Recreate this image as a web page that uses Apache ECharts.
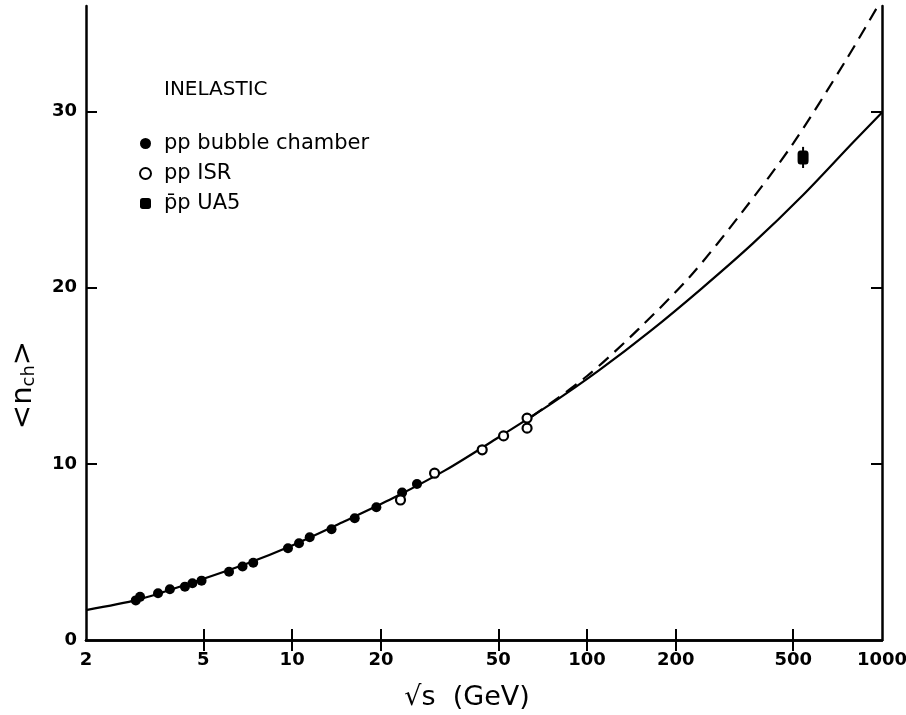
<!DOCTYPE html>
<html>
<head>
<meta charset="utf-8">
<script src="https://cdn.jsdelivr.net/npm/echarts@6/dist/echarts.min.js"></script>
<style>html,body{margin:0;padding:0;background:#fff}#c{width:906px;height:715px}</style>
</head>
<body>
<div id="c"></div>
<script>
// ---- data ----
const xTickLabels = [2, 5, 10, 20, 50, 100, 200, 500, 1000];
const xTickMarks = [5, 10, 20, 50, 100, 200, 500];
const yTickLabels = [0, 10, 20, 30];
const yTickMarks = [10, 20, 30];

const bubbleX = [2.95, 3.05, 3.51, 3.85, 4.33, 4.59, 4.93, 6.11, 6.79, 7.38, 9.68, 10.55, 11.47, 13.6, 16.3, 19.3, 23.6, 26.5];
const bubbleY = [2.25, 2.45, 2.65, 2.88, 3.03, 3.22, 3.37, 3.88, 4.17, 4.39, 5.21, 5.49, 5.83, 6.29, 6.91, 7.54, 8.37, 8.86];

const isrX = [23.3, 30.4, 44.1, 52.1, 62.6, 62.6];
const isrY = [7.95, 9.47, 10.8, 11.59, 12.6, 12.03];

const ua5X = [540];
const ua5Y = [27.4];
const ua5Lo = [26.8];
const ua5Hi = [28.0];

const fitX = [2, 3, 4.5, 7, 10, 15, 22, 33, 50, 75, 110, 165, 245, 365, 540, 800, 1000];
const fitSolidY = [1.70, 2.29, 3.22, 4.33, 5.37, 6.73, 8.06, 9.63, 11.5, 13.38, 15.32, 17.58, 19.97, 22.52, 25.27, 28.28, 29.95];

const dashX = [65, 100, 150, 225, 335, 500, 750, 1000];
const dashY = [12.69, 14.99, 17.68, 20.7, 24.28, 28.2, 32.85, 36.4];

const FONT = 'DejaVu Sans';
const chart = echarts.init(document.getElementById('c'), null, {renderer: 'canvas'});

const axisLineStyle = {color: '#000', width: 2.5};
const tickStyle = {color: '#000', width: 2};

const option = {
  backgroundColor: '#fff',
  animation: false,
  title: {
    text: 'INELASTIC',
    left: 159, top: 75,
    textStyle: {fontFamily: FONT, fontSize: 20, fontWeight: 'normal', color: '#000'}
  },
  legend: {
    orient: 'vertical',
    left: 134, top: 127,
    itemWidth: 11, itemHeight: 11,
    itemGap: 7,
    textStyle: {fontFamily: FONT, fontSize: 21, color: '#000', lineHeight: 23, padding: [0, 0, 0, 8]},
    data: [
      {name: 'pp bubble chamber', icon: 'circle'},
      {name: 'pp ISR', icon: 'circle'},
      {name: 'p\u0304p UA5', icon: 'roundRect'}
    ]
  },
  grid: {left: 86, right: 24, top: 6, bottom: 75, containLabel: false, outerBoundsMode: 'none'},
  xAxis: [{
    type: 'log', logBase: 10, min: 2, max: 1000, position: 'bottom',
    name: '\u221As  (GeV)', nameLocation: 'middle', nameGap: 44,
    nameTextStyle: {fontFamily: FONT, fontSize: 27, color: '#000', padding: [0, 34, 0, 0]},
    axisLine: {show: true, lineStyle: axisLineStyle},
    axisTick: {show: true, inside: true, length: 11, lineStyle: tickStyle, customValues: xTickMarks},
    axisLabel: {show: true, customValues: xTickLabels, margin: 11, fontFamily: FONT, fontSize: 18, fontWeight: 'bold', color: '#000',
      formatter: function (v) { return String(v); }},
    splitLine: {show: false}, minorTick: {show: false}, minorSplitLine: {show: false}
  }, {
    type: 'log', logBase: 10, min: 2, max: 1000, position: 'top',
    axisLine: {show: true, lineStyle: axisLineStyle},
    axisTick: {show: true, inside: true, length: 11, lineStyle: tickStyle, customValues: xTickMarks},
    axisLabel: {show: false},
    splitLine: {show: false}
  }],
  yAxis: [{
    type: 'value', min: 0, max: 36, interval: 10, position: 'left',
    name: '<n{sub|ch}>', nameLocation: 'middle', nameGap: 48, nameRotate: 90,
    nameTextStyle: {fontFamily: FONT, fontSize: 29, color: '#000', padding: [0, 124, 0, 0],
      rich: {sub: {fontFamily: FONT, fontSize: 18, color: '#000', verticalAlign: 'bottom', padding: [12, 0, 0, 0]}}},
    axisLine: {show: true, lineStyle: axisLineStyle},
    axisTick: {show: true, inside: true, length: 11, lineStyle: tickStyle, customValues: yTickMarks},
    axisLabel: {show: true, customValues: yTickLabels, margin: 9, fontFamily: FONT, fontSize: 18, fontWeight: 'bold', color: '#000'},
    splitLine: {show: false}
  }, {
    type: 'value', min: 0, max: 36, interval: 10, position: 'right',
    axisLine: {show: true, lineStyle: axisLineStyle},
    axisTick: {show: true, inside: true, length: 11, lineStyle: tickStyle, customValues: yTickMarks},
    axisLabel: {show: false},
    splitLine: {show: false}
  }],
  series: [
    {
      name: 'fit', type: 'line', xAxisIndex: 0, yAxisIndex: 0,
      data: fitX.map((x, i) => [x, fitSolidY[i]]),
      smooth: 0.3, showSymbol: false, symbol: 'none',
      lineStyle: {color: '#000', width: 2.2}, z: 2, silent: true
    },
    {
      name: 'fit2', type: 'line', xAxisIndex: 0, yAxisIndex: 0,
      data: dashX.map((x, i) => [x, dashY[i]]),
      smooth: 0.3, showSymbol: false, symbol: 'none', clip: true,
      lineStyle: {color: '#000', width: 2.2, type: [13, 8]}, z: 2, silent: true
    },
    {
      name: 'pp bubble chamber', type: 'scatter', xAxisIndex: 0, yAxisIndex: 0,
      data: bubbleX.map((x, i) => [x, bubbleY[i]]),
      symbol: 'circle', symbolSize: 10, itemStyle: {color: '#000', opacity: 1}, z: 4
    },
    {
      name: 'pp ISR', type: 'scatter', xAxisIndex: 0, yAxisIndex: 0,
      data: isrX.map((x, i) => [x, isrY[i]]),
      symbol: 'circle', symbolSize: 9, itemStyle: {color: '#fff', borderColor: '#000', borderWidth: 2.2, opacity: 1}, z: 5
    },
    {
      name: 'p\u0304p UA5 err', type: 'custom', xAxisIndex: 0, yAxisIndex: 0,
      data: ua5X.map((x, i) => [x, ua5Lo[i], ua5Hi[i]]),
      encode: {x: 0, y: [1, 2]},
      renderItem: function (params, api) {
        const lo = api.coord([api.value(0), api.value(1)]);
        const hi = api.coord([api.value(0), api.value(2)]);
        return {type: 'line', shape: {x1: lo[0], y1: lo[1], x2: hi[0], y2: hi[1]}, style: {stroke: '#000', lineWidth: 2}};
      },
      z: 3, silent: true
    },
    {
      name: 'p\u0304p UA5', type: 'scatter', xAxisIndex: 0, yAxisIndex: 0,
      data: ua5X.map((x, i) => [x, ua5Y[i]]),
      symbol: 'roundRect', symbolSize: [11, 14], itemStyle: {color: '#000', opacity: 1}, z: 6
    }
  ]
};
chart.setOption(option);
</script>
</body>
</html>
